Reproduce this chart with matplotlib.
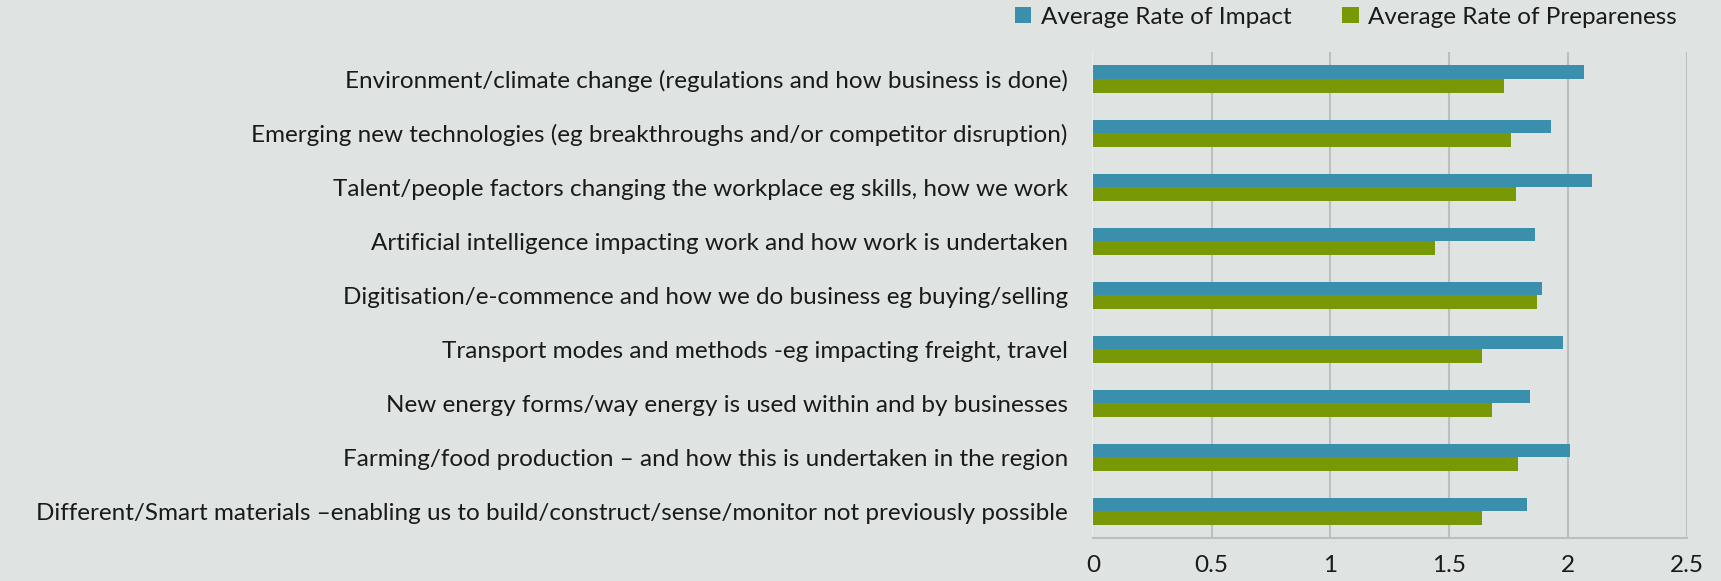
import numpy as np
import matplotlib.pyplot as plt

categories = [
    "Environment/climate change (regulations and how business is done)",
    "Emerging new technologies (eg breakthroughs and/or competitor disruption)",
    "Talent/people factors changing the workplace eg skills, how we work",
    "Artificial intelligence impacting work and how work is undertaken",
    "Digitisation/e-commence and how we do business eg buying/selling",
    "Transport modes and methods -eg impacting freight, travel",
    "New energy forms/way energy is used within and by businesses",
    "Farming/food production \u2013 and how this is undertaken in the region",
    "Different/Smart materials \u2013enabling us to build/construct/sense/monitor not previously possible",
]
impact = [2.07, 1.93, 2.10, 1.86, 1.89, 1.98, 1.84, 2.01, 1.83]
preparedness = [1.73, 1.76, 1.78, 1.44, 1.87, 1.64, 1.68, 1.79, 1.64]
series_names = ["Average Rate of Impact", "Average Rate of Prepareness"]

BG = "#dfe3e1"
BLUE = "#3a8fad"
GREEN = "#789905"
FS = 17.5

plt.rcParams['font.family'] = ['Lato', 'DejaVu Sans']

fig = plt.figure(figsize=(17.21, 5.81), dpi=100, facecolor=BG)
ax = fig.add_axes([0.635, 0.074, 0.345, 0.8365])
ax.set_facecolor(BG)

y = np.arange(len(categories))
h = 0.25
ax.barh(y - h / 2, impact, height=h, color=BLUE, label=series_names[0], zorder=3)
ax.barh(y + h / 2, preparedness, height=h, color=GREEN, label=series_names[1], zorder=3)

ax.set_ylim(len(categories) - 0.5, -0.5)
ax.set_yticks(y)
ax.set_yticklabels(categories, fontsize=FS, color="#1a1a1a")
ax.set_xlim(0, 2.5)
ax.set_xticks(np.arange(0, 2.51, 0.5))
ax.set_xticklabels(["0", "0.5", "1", "1.5", "2", "2.5"], fontsize=FS, color="#1a1a1a")
ax.tick_params(axis="y", length=0, pad=18)
ax.tick_params(axis="x", length=0, pad=12)

ax.grid(axis="x", color="#bcbec0", linewidth=1.5, zorder=0)
for side in ["top", "right"]:
    ax.spines[side].set_visible(False)
ax.spines["left"].set_color("#eceeed")
ax.spines["left"].set_linewidth(1.2)
ax.spines["bottom"].set_color("#bcbec0")
ax.spines["bottom"].set_linewidth(1.5)

fig.legend(loc="center right", bbox_to_anchor=(1677 / 1721, 1 - 17 / 581), ncol=2,
           frameon=False, borderpad=0, borderaxespad=0,
           fontsize=FS, handlelength=0.66, handleheight=0.66, handletextpad=0.4,
           columnspacing=2.1, labelcolor="#1a1a1a")

fig.savefig("out.png", dpi=100, facecolor=BG)
